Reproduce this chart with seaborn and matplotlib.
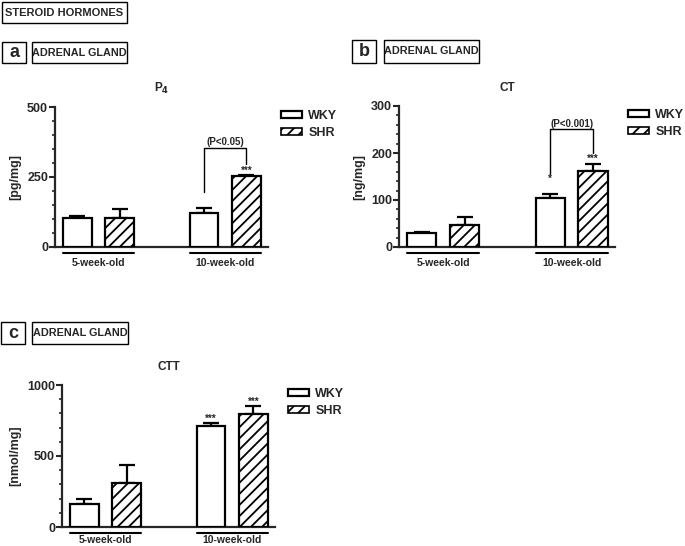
import matplotlib
matplotlib.use('Agg')
import matplotlib.pyplot as plt
from matplotlib.patches import Patch, Rectangle
from matplotlib.ticker import MultipleLocator
import seaborn as sns
import pandas as pd

sns.set_style('white')
plt.rcParams['font.family'] = ['Liberation Sans', 'DejaVu Sans']
plt.rcParams['font.weight'] = 'bold'
plt.rcParams['hatch.linewidth'] = 1.3

ages = ['5-week-old', '10-week-old']
strains = ['WKY', 'SHR']

# P4 [pg/mg]
p4_wky = [104, 121]
p4_wky_err = [5, 18]
p4_shr = [102, 252]
p4_shr_err = [32, 6]

# CT [ng/mg]
ct_wky = [30, 104]
ct_wky_err = [2, 8]
ct_shr = [47, 161]
ct_shr_err = [16, 15]

# CTT [nmol/mg]
ctt_wky = [163, 713]
ctt_wky_err = [35, 22]
ctt_shr = [313, 795]
ctt_shr_err = [122, 60]

W, H = 685, 546
fig = plt.figure(figsize=(W / 100, H / 100), dpi=100)


def px_axes(x0, y0, x1, y1):
    return fig.add_axes([x0 / W, 1 - y1 / H, (x1 - x0) / W, (y1 - y0) / H])


def box(x0, y0, x1, y1, text, size):
    fig.add_artist(Rectangle((x0 / W, 1 - y1 / H), (x1 - x0) / W, (y1 - y0) / H,
                             transform=fig.transFigure, fc='white', ec='black', lw=1))
    fig.text((x0 + x1) / 2 / W, 1 - (y0 + y1) / 2 / H, text, ha='center', va='center',
             fontsize=size, fontweight='bold')


def panel(ax, wky, wky_err, shr, shr_err, title, ylabel, ymax, major, minor, xpad=8):
    df = pd.DataFrame({
        'age': ages * 2,
        'strain': [strains[0]] * 2 + [strains[1]] * 2,
        'value': wky + shr,
    })
    sns.barplot(data=df, x='age', y='value', hue='strain', order=ages, hue_order=strains,
                palette=['white', 'white'], edgecolor='black', linewidth=1.6,
                width=0.67, gap=0.32, errorbar=None, legend=False, ax=ax, zorder=3)
    for bar in ax.containers[1]:
        bar.set_hatch('///')
    for cont, errs in zip(ax.containers, [wky_err, shr_err]):
        for bar, e in zip(cont, errs):
            xc = bar.get_x() + bar.get_width() / 2
            ax.errorbar(xc, bar.get_height(), yerr=[[0], [e]], fmt='none', ecolor='black',
                        elinewidth=1.6, capsize=6, capthick=1.6, zorder=2, clip_on=False)
    ax.set_xlim(-0.345, 1.338)
    ax.set_ylim(0, ymax)
    ax.yaxis.set_major_locator(MultipleLocator(major))
    ax.yaxis.set_minor_locator(MultipleLocator(minor))
    ax.tick_params(axis='y', which='major', direction='out', length=4, width=1.5,
                   labelsize=9, left=True, pad=1)
    ax.tick_params(axis='y', which='minor', direction='out', length=2, width=1.2, left=True)
    ax.tick_params(axis='x', length=0, labelsize=7.5, pad=xpad)
    for lab in ax.get_xticklabels() + ax.get_yticklabels():
        lab.set_fontweight('bold')
    ax.set_xlabel('')
    ax.set_ylabel(ylabel, fontsize=9, fontweight='bold', labelpad=4)
    ax.set_title(title, fontsize=8.5, fontweight='bold', pad=11)
    sns.despine(ax=ax)
    ax.spines['left'].set_linewidth(1.6)
    ax.spines['bottom'].set_linewidth(1.6)
    tr = ax.get_xaxis_transform()
    for i in range(2):
        b0 = ax.containers[0][i]
        b1 = ax.containers[1][i]
        ax.plot([b0.get_x(), b1.get_x() + b1.get_width()], [-0.045, -0.045], color='black',
                lw=1.5, transform=tr, clip_on=False)
    handles = [Patch(fc='white', ec='black', lw=1.6, label='WKY'),
               Patch(fc='white', ec='black', lw=1.2, hatch='///', label='SHR')]
    ax.legend(handles=handles, loc='upper left', bbox_to_anchor=(1.06, 0.98), frameon=False,
              prop={'size': 9, 'weight': 'bold'}, handlelength=1.7, handleheight=0.55,
              handletextpad=0.5, labelspacing=0.4, borderaxespad=0, borderpad=0)


def centers(ax, i):
    b = ax.containers[i][1]
    return b.get_x() + b.get_width() / 2


def bracket(ax, yl, yr, ytop, text, ytext):
    x1 = centers(ax, 0)
    x2 = centers(ax, 1)
    ax.plot([x1, x1, x2, x2], [yl, ytop, ytop, yr], color='black', lw=1, clip_on=False)
    ax.text((x1 + x2) / 2, ytext, text, ha='center', va='center', fontsize=7, fontweight='bold')


def stars(ax, i, y, text):
    ax.text(centers(ax, i), y, text, ha='center', va='center', fontsize=7, fontweight='bold')


# panel a
ax_a = px_axes(55, 107, 268, 247)
panel(ax_a, p4_wky, p4_wky_err, p4_shr, p4_shr_err, 'P$_4$', '[pg/mg]', 500, 250, 50)
bracket(ax_a, 196, 298, 354, '(P<0.05)', 376)
stars(ax_a, 1, 272, '***')

# panel b
ax_b = px_axes(399, 106, 615, 247)
panel(ax_b, ct_wky, ct_wky_err, ct_shr, ct_shr_err, 'CT', '[ng/mg]', 300, 100, 20)
bracket(ax_b, 155, 199, 250, '(P<0.001)', 262)
stars(ax_b, 0, 145, '*')
stars(ax_b, 1, 187, '***')

# panel c
ax_c = px_axes(62, 385, 275, 527)
panel(ax_c, ctt_wky, ctt_wky_err, ctt_shr, ctt_shr_err, 'CTT', '[nmol/mg]', 1000, 500, 100,
      xpad=5.5)
stars(ax_c, 0, 762, '***')
stars(ax_c, 1, 884, '***')

box(2, 2, 127, 23, 'STEROID HORMONES', 8)
box(2, 42, 26, 63, 'a', 13)
box(32, 42, 127, 63, 'ADRENAL GLAND', 7.8)
box(352, 40, 376, 63, 'b', 13)
box(384, 40, 479, 63, 'ADRENAL GLAND', 7.8)
box(1, 322, 25, 344, 'c', 13)
box(32, 322, 128, 344, 'ADRENAL GLAND', 7.8)

fig.savefig('out.png', dpi=100, facecolor='white')
